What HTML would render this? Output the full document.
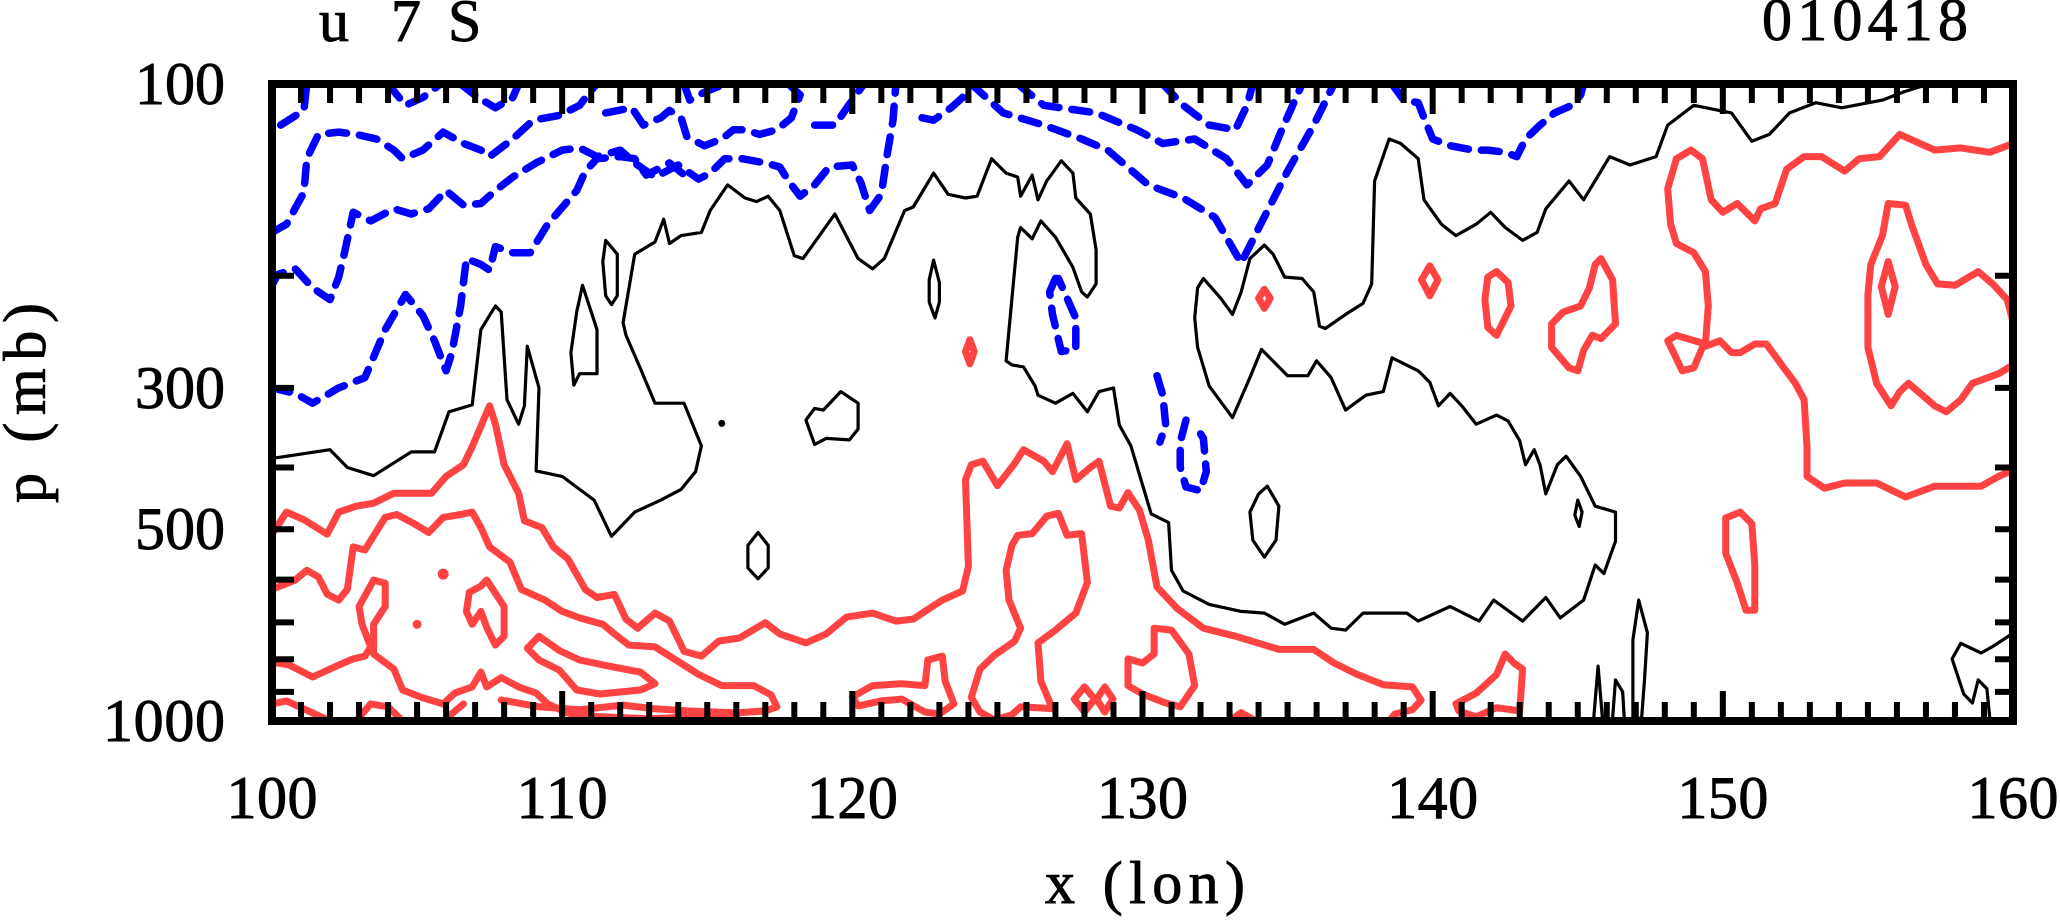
<!DOCTYPE html>
<html><head><meta charset="utf-8"><style>
html,body{margin:0;padding:0;background:#fff;}
svg{display:block;}
text{font-family:"Liberation Serif","DejaVu Serif",serif;fill:#000;stroke:#000;stroke-width:0.9;}
</style></head><body>
<svg id="chart" width="2060" height="923" viewBox="0 0 2060 923" xmlns="http://www.w3.org/2000/svg">
<g id="contours"></g>
<g id="axes"></g>
<text x="319" y="41" font-size="60">u</text>
<text x="391" y="41" font-size="60">7</text>
<text x="448" y="41" font-size="60">S</text>
<text x="1762" y="40" font-size="60" textLength="206" lengthAdjust="spacing">010418</text>
<text x="1145" y="903" font-size="60" text-anchor="middle" textLength="200" lengthAdjust="spacing">x (lon)</text>
<text x="45" y="403" font-size="60" text-anchor="middle" transform="rotate(-90 45 403)" textLength="200" lengthAdjust="spacing">p (mb)</text>
</svg>
<script>
const xTicks=[100,110,120,130,140,150,160];
const yTickLabels=[100,300,500,1000];
const yMinorTicks=[200,300,400,500,600,700,800,900];

const blackMain=[[100,387],[102.0,375],[102.6,400],[103.5,412],[104.8,378],[105.6,378],[106.1,327],[106.9,319],[107.2,243],[107.7,223],[107.9,228],[108.1,313],[108.5,342],[108.7,320],[108.8,258],[109.2,300],[109.1,405],[110.0,413],[111.1,450],[111.7,513],[112.5,470],[113.4,450],[114.1,433],[114.6,406],[114.8,370],[114.2,317],[113.2,317],[112.7,280],[112.2,248],[112.1,237],[112.5,185],[113.2,177],[113.5,163],[113.7,178],[114.1,173],[114.8,171],[115.1,158],[115.7,144],[116.3,151],[116.7,153],[117.1,150],[117.5,158],[118.0,186],[118.3,188],[119.4,160],[120.2,188],[120.7,195],[121.1,188],[121.8,158],[122.1,156],[122.8,138],[123.3,149],[123.9,151],[124.3,150],[124.8,131],[125.3,138],[125.7,140],[125.8,150],[126.2,139],[126.4,152],[126.7,142],[127.2,132],[127.6,138],[127.7,151],[128.2,160],[128.4,182],[128.4,206],[128.1,216],[127.9,212],[127.6,194],[127.0,174],[126.5,164],[126.2,175],[125.8,168],[125.7,174],[125.3,272],[125.5,276],[125.9,278],[126.3,298],[126.4,308],[127.0,317],[127.6,306],[128.1,327],[128.5,304],[129.0,300],[129.2,343],[129.6,370],[130.3,473],[130.9,488],[131.0,580],[131.4,625],[132.3,656],[133.4,673],[134.2,677],[134.9,705],[135.9,677],[136.5,715],[137.0,720],[137.6,677],[139.1,677],[139.5,697],[140.6,661],[141.6,697],[142.1,646],[143.1,697],[143.9,640],[144.4,689],[145.2,646],[145.6,569],[145.9,587],[146.3,522],[146.3,470],[145.6,460],[145.1,413],[144.6,384],[144.3,396],[143.9,440],[143.7,396],[143.5,375],[143.2,396],[143.0,363],[142.6,338],[142.2,331],[141.5,342],[141.0,320],[140.6,306],[140.2,320],[139.9,294],[139.5,282],[138.6,269],[138.3,304],[137.7,308],[137.0,325],[136.5,289],[136.0,272],[135.7,287],[135.0,287],[134.1,261],[133.7,289],[133.1,334],[132.3,298],[131.9,259],[131.8,233],[131.9,209],[132.1,202],[132.7,217],[133.1,230],[133.4,212],[133.7,188],[134.2,179],[134.5,185],[134.9,201],[135.5,202],[135.9,212],[136.1,240],[136.3,242],[137.0,230],[137.6,221],[137.9,206],[138.0,142],[138.5,122],[138.9,124],[139.5,131],[139.7,152],[140.3,166],[140.8,173],[141.5,166],[142.0,159],[142.5,168],[143.1,176],[143.6,171],[143.9,157],[144.7,142],[145.2,152],[146.1,130],[146.8,134],[147.7,130],[148.1,116],[149.0,108],[150.3,111],[151.0,123],[151.6,120],[152.3,111],[153.2,107],[154.1,109],[155.5,106],[156.2,103],[157.1,100]];
const blackLoopA=[[111.5,176],[111.9,185],[111.9,215],[111.7,222],[111.5,215],[111.4,190]];
const blackLoopB=[[110.7,207],[111.2,243],[111.2,285],[110.6,285],[110.4,297],[110.3,264],[110.5,228]];
const blackLoopC=[[122.8,189],[123.0,205],[123.0,220],[122.85,233],[122.65,220],[122.65,203]];
const blackLoopD=[[119.6,304],[120.2,317],[120.2,348],[119.9,362],[119.1,360],[118.7,368],[118.4,337],[118.7,323],[119.0,325]];
const blackLoopE=[[116.75,506],[117.1,530],[117.1,575],[116.75,598],[116.4,575],[116.4,530]];
const blackLoopF=[[134.3,428],[134.7,460],[134.6,520],[134.2,553],[133.8,520],[133.7,470],[134.0,440]];
const blackLoopG=[[145.0,450],[145.15,470],[145.05,495],[144.9,475]];
const blackSpikeA=[[147.1,646],[147.4,727],[147.3,862],[147.2,990],[146.9,990],[146.9,862],[146.9,746]];
const blackSpikeB=[[145.55,990],[145.7,820],[145.85,990]];
const blackSpikeC=[[146.2,990],[146.3,862],[146.55,900],[146.6,990]];
const blackCorner=[[159.9,733],[159.3,764],[158.9,782],[158.2,755],[157.9,799],[158.3,907],[158.6,937],[158.8,862],[159.1,890],[159.2,990]];
const blackDot=[[115.5,341]];

const blueA=[[100,171],[100.5,166],[101.1,148],[101.2,131],[101.6,120],[102.3,119],[102.9,120],[103.6,122],[104.2,127],[104.5,131],[105.2,127],[105.9,119],[106.6,124],[107.2,127],[107.5,130],[108.3,122],[109.0,114],[109.9,112],[110.6,108],[111.1,101],[111.2,100]];
const blueB=[[100,207],[100.2,199],[100.8,195],[101.4,209],[102.0,218],[102.3,201],[102.5,184],[102.8,159],[103.4,164],[104.2,157],[104.8,160],[105.4,157],[106.0,147],[106.6,155],[107.2,154],[107.7,147],[108.3,140],[109.1,133],[110.0,127],[110.6,126],[111.2,130],[112.0,127],[112.6,134],[113.2,140],[114.0,134],[114.7,141],[115.1,138],[115.6,131],[116.2,131],[117.0,133],[117.5,135],[117.8,142],[118.2,150],[118.7,144],[119.2,135],[120.0,134],[120.3,143],[120.6,158],[121.0,149],[121.2,129],[121.4,114],[121.5,100]];
const blueC=[[100,300],[100.8,306],[101.4,317],[102.3,300],[103.2,289],[103.9,243],[104.6,214],[105.2,231],[105.6,253],[106.0,282],[106.2,264],[106.5,223],[106.7,188],[107.2,192],[107.5,196],[107.7,180],[108.3,184],[108.9,184],[109.5,166],[110.5,147],[110.8,137],[111.2,131],[112.0,130],[112.5,131],[112.9,139],[113.7,133],[114.3,140]];
const blueTopA=[[100.3,116],[101.1,110],[101.2,100]];
const blueTopB=[[104.0,100],[104.6,108],[105.2,105],[105.8,100]];
const blueTopC=[[106.5,100],[107.1,105],[107.7,109],[108.3,105],[108.5,100]];
const blueTopD=[[111.5,111],[112.4,109],[112.8,116],[113.4,113],[113.7,110],[114.1,113],[114.3,121],[114.9,125],[115.5,122],[115.9,118],[116.3,118],[116.8,120],[117.4,118],[117.9,113],[118.2,104],[117.8,100]];
const blueTopE=[[118.7,116],[119.4,116],[120.0,106],[120.4,100]];
const blueTopF=[[114.2,100],[114.4,106],[114.9,103],[115.6,100]];
const blueTopG=[[122.4,113],[122.8,114],[123.4,109],[123.8,105],[123.9,100]];
const blueVDeep=[[124.1,100],[125.2,111],[126.6,116],[127.9,122],[128.8,127],[130.2,144],[131.4,151],[132.5,162],[133.4,191],[134.1,165],[135.0,137],[135.9,116],[136.6,100]];
const blueVMid=[[125.7,100],[126.6,108],[128.4,111],[129.8,118],[130.7,124],[131.8,122],[132.9,131],[133.6,144],[134.3,134],[134.8,118],[135.5,100]];
const blueVTop=[[130.7,100],[131.4,108],[132.3,116],[133.2,118],[133.6,108],[133.8,100]];
const blueRight=[[138.6,100],[139.0,106],[139.5,107],[139.7,113],[140.0,122],[140.6,125],[141.4,127],[141.9,127],[142.5,128],[142.9,130],[143.2,122],[143.7,116],[144.2,111],[144.8,108],[145.1,104],[145.2,100]];
const blueLoopA=[[127.0,202],[126.8,212],[126.9,230],[127.2,263],[127.7,261],[127.7,233],[127.4,217],[127.1,202]];
const blueLoopB=[[130.5,287],[130.7,308],[130.8,343],[130.6,365]];
const blueLoopC=[[131.5,337],[131.3,365],[131.3,399],[131.5,429],[132.0,435],[132.2,406],[132.1,360],[131.9,348]];

const redA=[[100,509],[100.5,470],[101.1,483],[101.9,509],[102.3,470],[102.9,460],[103.5,455],[104.2,439],[105.5,439],[106.0,413],[106.6,396],[106.9,371],[107.5,320],[107.7,342],[108.0,396],[108.5,439],[108.7,485],[109.3,497],[109.7,533],[110.2,557],[110.8,622],[111.2,640],[111.8,633],[112.2,692],[112.6,715],[113.2,677],[113.7,697],[114.2,777],[114.8,791],[115.4,749],[116.1,741],[117.0,701],[117.5,730],[118.4,754],[119.1,730],[119.8,687],[120.7,677],[121.5,697],[122.1,692],[122.5,673],[123.1,646],[123.8,625],[124.0,572],[123.9,418],[124.1,396],[124.5,391],[125.0,427],[125.6,394],[125.9,375],[126.6,391],[126.9,406],[127.4,367],[127.7,418],[128.2,400],[128.5,391],[128.9,460],[129.2,463],[129.5,438],[129.9,467],[130.2,520],[130.5,616],[131.2,666],[132.1,715],[133.2,736],[134.7,772],[135.9,772],[136.6,811],[137.4,845],[138.3,877],[139.3,884],[139.6,928],[139.3,960],[138.7,975],[138.5,1000]];
const redB=[[100,621],[100.8,601],[101.2,580],[101.6,594],[101.9,632],[102.3,646],[102.6,621],[102.8,533],[103.2,539],[103.9,479],[104.3,474],[104.9,490],[105.4,506],[105.9,479],[106.5,474],[106.9,470],[107.2,497],[107.5,533],[108.2,563],[108.6,622],[109.4,646],[110.0,673],[110.6,689],[111.4,705],[111.9,736],[112.3,760],[113.2,765],[114.2,817],[114.7,845],[115.5,880],[116.6,880],[117.2,910],[117.4,950],[117.0,964],[116.0,971],[114.3,964],[113.2,957],[112.1,944],[110.6,960],[109.2,950],[107.9,927]];
const redLoopA=[[108.8,769],[109.2,736],[109.9,775],[110.6,802],[111.6,820],[112.7,838],[113.2,874],[112.7,894],[111.3,907],[110.5,894],[109.9,832],[109.2,802]];
const redC=[[100,808],[100.6,817],[101.4,853],[102.3,817],[102.8,799],[103.2,791],[103.4,765],[103.1,705],[103.0,661],[103.5,601],[103.9,608],[103.9,661],[103.5,705],[103.5,785],[104.2,829],[104.5,894],[105.2,920],[105.9,940],[106.3,904],[106.9,884],[107.2,838],[107.4,884],[107.9,855],[108.5,884],[109.1,904],[109.5,940],[110.2,972],[111.3,985],[113.0,992],[114.7,985],[116.1,996]];
const redLoopB=[[107.4,601],[108.0,661],[108.0,736],[107.7,760],[107.4,713],[107.2,673],[106.9,705],[106.7,673],[106.8,628],[107.2,614]];
const redArcA=[[100,940],[100.5,930],[101.4,971],[102.0,1000]];
const redArcB=[[102.9,1000],[103.4,940],[104.0,950],[104.5,1000]];
const redArcC=[[105.9,1000],[106.6,940]];
const redTower=[[125.7,511],[126.2,508],[126.7,477],[127.1,472],[127.4,511],[127.9,508],[128.1,606],[127.7,677],[127.0,720],[126.4,754],[126.5,866],[126.9,956],[125.8,950],[125.5,978],[124.9,996],[124.4,968],[124.1,918],[124.4,829],[124.9,788],[125.6,749],[125.8,715],[125.4,646],[125.3,580],[125.5,530]];
const redLoopC=[[120.0,917],[120.7,880],[121.7,874],[122.5,880],[122.6,802],[123.1,791],[123.2,866],[123.5,940],[123.0,975],[122.5,968],[121.7,924],[121.0,930],[120.2,947]];
const redRingA=[[128.0,884],[128.35,924],[128.0,968],[127.65,924]];
const redRingB=[[128.7,884],[128.98,924],[128.7,968],[128.42,924]];
const redLoopD=[[130.4,715],[131.0,720],[131.6,785],[131.8,880],[131.3,950],[130.8,937],[130.0,907],[129.5,880],[129.5,799],[130.0,811],[130.4,785]];
const redSpotA=[[124.05,252],[124.2,263],[124.05,275],[123.9,263]];
const redSpotB=[[134.2,210],[134.4,217],[134.2,225],[134.0,217]];
const redSpotC=[[139.9,193],[140.18,203],[139.9,215],[139.62,203]];
const redLoopE=[[142.2,197],[142.6,205],[142.7,223],[142.2,248],[141.9,241],[141.8,218],[141.9,201]];
const redLoopF=[[145.8,188],[146.2,203],[146.3,238],[145.8,251],[145.5,248],[145.2,262],[145.0,282],[144.7,279],[144.1,259],[144.1,238],[144.5,228],[145.1,223],[145.4,209],[145.6,192]];
const redBig=[[160,124],[159.2,128],[158.2,126],[157.3,127],[156.1,120],[155.4,130],[154.7,131],[154.2,137],[153.4,130],[152.8,130],[152.2,136],[151.8,154],[151.3,157],[151.1,164],[150.5,154],[150.0,159],[149.6,152],[149.3,131],[148.9,127],[148.4,131],[148.1,146],[148.2,166],[148.4,178],[149.0,184],[149.4,197],[149.5,223],[149.4,256],[148.4,248],[148.1,253],[148.3,264],[148.6,282],[149.0,279],[149.3,259],[149.9,253],[150.3,264],[150.6,264],[151.1,256],[151.5,256],[152.1,279],[152.5,295],[152.8,313],[152.9,371],[152.9,413],[153.5,431],[154.2,423],[155.3,423],[156.3,445],[157.3,428],[158.2,428],[158.9,428],[159.5,413],[160,404]];
const redRight=[[160,236],[159.8,218],[159.3,206],[158.8,197],[158.0,207],[157.4,206],[157.0,192],[156.5,166],[156.3,155],[155.7,154],[155.5,173],[155.1,192],[155.0,214],[155.0,259],[155.3,295],[155.8,320],[156.1,304],[156.4,295],[157.3,320],[157.7,327],[158.2,313],[158.6,295],[159.5,285],[160,276]];
const redSpotD=[[155.7,190],[155.94,208],[155.7,230],[155.46,208]];
const redLoopG=[[150.6,470],[151.0,490],[151.1,569],[151.1,670],[150.8,670],[150.5,608],[150.1,545],[150.1,480]];
const redLoopH=[[140.8,940],[141.5,904],[142.2,846],[142.5,785],[142.8,811],[143.1,829],[143.0,964],[142.2,953],[141.5,985],[140.9,964]];
const redArcD=[[133.0,1000],[133.4,970],[133.9,1000]];

const X0=272,X1=2013,Y0=84,Y1=721;
function xScale(lon){return X0+(lon-100)/60*(X1-X0);}
function yScale(p){return Y0+Math.log10(p/100)*(Y1-Y0);}
const NS='http://www.w3.org/2000/svg';
const layer=document.getElementById('contours');
const axes=document.getElementById('axes');

function pathD(pts,closed){
  let d=pts.map((q,i)=>(i?'L':'M')+xScale(q[0]).toFixed(1)+' '+yScale(q[1]).toFixed(1)).join(' ');
  return closed?d+' Z':d;
}
function draw(pts,closed,kind,name){
  const el=document.createElementNS(NS,'path');
  el.setAttribute('d',pathD(pts,closed));
  el.setAttribute('fill','none');
  el.setAttribute('stroke-linejoin','round');
  el.setAttribute('stroke-linecap','round');
  if(kind==='black'){el.setAttribute('stroke','#000');el.setAttribute('stroke-width','3.2');}
  else if(kind==='red'){el.setAttribute('stroke','#ff4242');el.setAttribute('stroke-width','7');}
  else {el.setAttribute('stroke','#0000ff');el.setAttribute('stroke-width','7.5');el.setAttribute('stroke-dasharray','18 13');}
  
  
  layer.appendChild(el);
}
function dot(pt,r,color,name){
  const c=document.createElementNS(NS,'circle');
  c.setAttribute('cx',xScale(pt[0]));c.setAttribute('cy',yScale(pt[1]));c.setAttribute('r',r);c.setAttribute('fill',color);
  
  
  layer.appendChild(c);
}
draw(blackMain,false,'black','zero-contour-main');
[[blackLoopA,'zero-contour-loop-a'],[blackLoopB,'zero-contour-loop-b'],[blackLoopC,'zero-contour-loop-c'],[blackLoopD,'zero-contour-loop-d'],[blackLoopE,'zero-contour-loop-e'],[blackLoopF,'zero-contour-loop-f'],[blackLoopG,'zero-contour-loop-g'],[blackSpikeA,'zero-contour-spike-a']].forEach(a=>draw(a[0],true,'black',a[1]));
draw(blackSpikeB,false,'black','zero-contour-spike-b');
draw(blackSpikeC,false,'black','zero-contour-spike-c');
draw(blackCorner,false,'black','zero-contour-corner');
dot(blackDot[0],3.5,'#000','zero-contour-dot');

[[blueA,'neg-contour-a'],[blueB,'neg-contour-b'],[blueC,'neg-contour-c'],[blueTopA,'neg-contour-top-a'],[blueTopB,'neg-contour-top-b'],[blueTopC,'neg-contour-top-c'],[blueTopD,'neg-contour-top-d'],[blueTopE,'neg-contour-top-e'],[blueTopF,'neg-contour-top-f'],[blueTopG,'neg-contour-top-g'],[blueVDeep,'neg-contour-v-deep'],[blueVMid,'neg-contour-v-mid'],[blueVTop,'neg-contour-v-top'],[blueRight,'neg-contour-right'],[blueLoopB,'neg-contour-loop-b'],[blueLoopC,'neg-contour-loop-c']].forEach(a=>draw(a[0],false,'blue',a[1]));
draw(blueLoopA,true,'blue','neg-contour-loop-a');

[[redA,'pos-contour-a'],[redB,'pos-contour-b'],[redC,'pos-contour-c'],[redArcA,'pos-contour-arc-a'],[redArcB,'pos-contour-arc-b'],[redArcC,'pos-contour-arc-c'],[redArcD,'pos-contour-arc-d'],[redBig,'pos-contour-big-right'],[redRight,'pos-contour-right']].forEach(a=>draw(a[0],false,'red',a[1]));
[[redLoopA,'pos-contour-loop-a'],[redLoopB,'pos-contour-loop-b'],[redTower,'pos-contour-tower'],[redLoopC,'pos-contour-loop-c'],[redRingA,'pos-contour-ring-a'],[redRingB,'pos-contour-ring-b'],[redLoopD,'pos-contour-loop-d'],[redSpotA,'pos-contour-spot-a'],[redSpotB,'pos-contour-spot-b'],[redSpotC,'pos-contour-spot-c'],[redLoopE,'pos-contour-loop-e'],[redLoopF,'pos-contour-loop-f'],[redSpotD,'pos-contour-spot-d'],[redLoopG,'pos-contour-loop-g'],[redLoopH,'pos-contour-loop-h']].forEach(a=>draw(a[0],true,'red',a[1]));
dot([105.9,588],5.5,'#ff4242','pos-contour-dot-a');
dot([105.0,705],4.5,'#ff4242','pos-contour-dot-b');

const frame=document.createElementNS(NS,'rect');
frame.setAttribute('x',X0);frame.setAttribute('y',Y0);frame.setAttribute('width',X1-X0);frame.setAttribute('height',Y1-Y0);
frame.setAttribute('fill','none');frame.setAttribute('stroke','#000');frame.setAttribute('stroke-width','8');


axes.appendChild(frame);
function line(x1,y1,x2,y2,w,name){
  const l=document.createElementNS(NS,'line');
  l.setAttribute('x1',x1);l.setAttribute('y1',y1);l.setAttribute('x2',x2);l.setAttribute('y2',y2);
  l.setAttribute('stroke','#000');l.setAttribute('stroke-width',w);
  
  
  axes.appendChild(l);
}
for(let lon=101;lon<160;lon++){
  const x=xScale(lon);const len=(lon%10===0)?30:19;
  line(x,Y0,x,Y0+len,6,'x-tick-top');
  line(x,Y1,x,Y1-len,6,'x-tick-bottom');
}
yMinorTicks.forEach(p=>{
  const y=yScale(p);
  line(X0,y,X0+22,y,6,'y-tick-left');
  line(X1,y,X1-18,y,6,'y-tick-right');
});
function label(txt,x,y,anchor,name,len){
  const t=document.createElementNS(NS,'text');
  t.setAttribute('x',x);t.setAttribute('y',y);t.setAttribute('font-size','60');t.setAttribute('text-anchor',anchor);
  if(len){t.setAttribute('textLength',len);t.setAttribute('lengthAdjust','spacing');}
  t.textContent=txt;
  
  
  axes.appendChild(t);
}
xTicks.forEach(v=>label(String(v),xScale(v),818,'middle','x-tick-label',91));
yTickLabels.forEach(v=>label(String(v),225,yScale(v)+20,'end','y-tick-label',String(v).length===4?122:90));
</script>
</body></html>
